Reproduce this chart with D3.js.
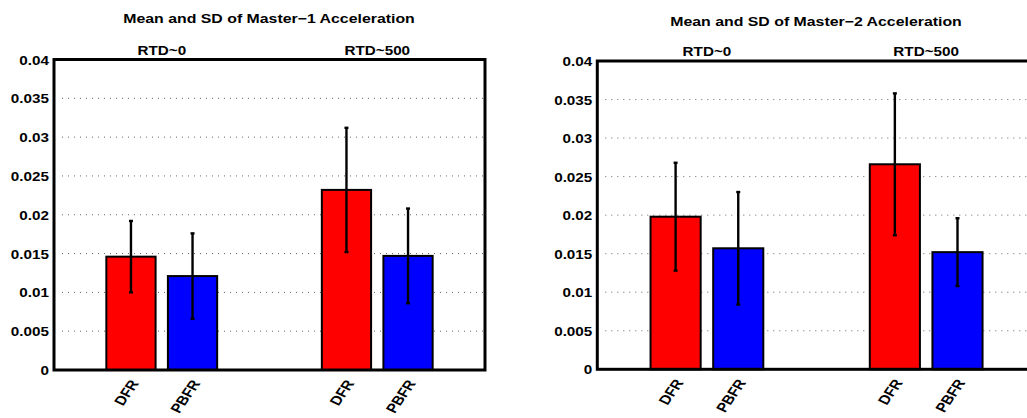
<!DOCTYPE html>
<html>
<head>
<meta charset="utf-8">
<script src="https://cdn.jsdelivr.net/npm/d3@7"></script>
<style>
  html, body { margin: 0; padding: 0; background: #fff; }
  svg text { font-family: "Liberation Sans", Arial, Helvetica, sans-serif; font-weight: bold; fill: #000; }
</style>
</head>
<body>
<svg id="chart" width="1027" height="418"></svg>
<script>
// Group and method names
const groups = ["RTD~0", "RTD~500"];
const methods = ["DFR", "PBFR"];
const colors = ["#ff0000", "#0000ff"];

// Master-1 acceleration: means and standard deviations per group
const m1DFR = [0.0146, 0.0232];
const m1DFRsd = [0.0046, 0.0080];
const m1PBFR = [0.0121, 0.0147];
const m1PBFRsd = [0.0055, 0.0061];

// Master-2 acceleration: means and standard deviations per group
const m2DFR = [0.0198, 0.0266];
const m2DFRsd = [0.0070, 0.0092];
const m2PBFR = [0.0157, 0.0152];
const m2PBFRsd = [0.0073, 0.0044];

// Y axis ticks
const yTicks = [0, 0.005, 0.01, 0.015, 0.02, 0.025, 0.03, 0.035, 0.04];

// Horizontal stretch applied to text glyphs
const SX = 1.22;

const svg = d3.select("#chart");

const panels = [
  { title: "Mean and SD of Master\u22121 Acceleration", dfr: m1DFR, dfrSd: m1DFRsd, pbfr: m1PBFR, pbfrSd: m1PBFRsd,
    left: 54, right: 485, top: 59.5, bottom: 370, titleY: 22.5, groupY: 54.5, titleX: 269 },
  { title: "Mean and SD of Master\u22122 Acceleration", dfr: m2DFR, dfrSd: m2DFRsd, pbfr: m2PBFR, pbfrSd: m2PBFRsd,
    left: 597.3, right: 1035.8, top: 61, bottom: 369.3, titleY: 26, groupY: 56, titleX: 816 }
];

// MATLAB-style grouped bar geometry
const groupWidth = Math.min(0.8, 2 / (2 + 1.5));
const offset = groupWidth / 4;
const barW = groupWidth / 2 * 0.8;

panels.forEach(p => {
  const x = d3.scaleLinear().domain([0.5, 2.5]).range([p.left, p.right]);
  const y = d3.scaleLinear().domain([0, 0.04]).range([p.bottom, p.top]);
  const g = svg.append("g");

  // Title
  g.append("text")
    .attr("transform", `translate(${p.titleX},${p.titleY}) scale(${SX},1)`)
    .attr("text-anchor", "middle")
    .style("font-size", "13px")
    .text(p.title);

  // Dotted grid
  g.append("g").selectAll("line")
    .data(yTicks.filter(t => t > 0 && t < 0.04))
    .join("line")
    .attr("x1", p.left + 8).attr("x2", p.right - 2)
    .attr("y1", d => y(d)).attr("y2", d => y(d))
    .attr("stroke", "#666").attr("stroke-width", 1)
    .attr("stroke-dasharray", "1,5");

  // Bars
  const rows = [];
  groups.forEach((gr, i) => {
    rows.push({ pos: i + 1 - offset, mean: p.dfr[i], sd: p.dfrSd[i], color: colors[0], label: methods[0] });
    rows.push({ pos: i + 1 + offset, mean: p.pbfr[i], sd: p.pbfrSd[i], color: colors[1], label: methods[1] });
  });
  const bw = x(barW) - x(0);
  g.append("g").selectAll("rect")
    .data(rows)
    .join("rect")
    .attr("x", d => x(d.pos) - bw / 2)
    .attr("width", bw)
    .attr("y", d => y(d.mean))
    .attr("height", d => y(0) - y(d.mean))
    .attr("fill", d => d.color)
    .attr("stroke", "#000").attr("stroke-width", 2);

  // Error bars (mean ± SD)
  const eb = g.append("g").selectAll("g").data(rows).join("g");
  eb.append("line")
    .attr("x1", d => x(d.pos)).attr("x2", d => x(d.pos))
    .attr("y1", d => y(d.mean + d.sd)).attr("y2", d => y(d.mean - d.sd))
    .attr("stroke", "#000").attr("stroke-width", 2.4);
  eb.append("line")
    .attr("x1", d => x(d.pos) - 2).attr("x2", d => x(d.pos) + 2)
    .attr("y1", d => y(d.mean + d.sd)).attr("y2", d => y(d.mean + d.sd))
    .attr("stroke", "#000").attr("stroke-width", 2.4);
  eb.append("line")
    .attr("x1", d => x(d.pos) - 2).attr("x2", d => x(d.pos) + 2)
    .attr("y1", d => y(d.mean - d.sd)).attr("y2", d => y(d.mean - d.sd))
    .attr("stroke", "#000").attr("stroke-width", 2.4);

  // Box
  g.append("rect")
    .attr("x", p.left).attr("y", p.top)
    .attr("width", p.right - p.left).attr("height", p.bottom - p.top)
    .attr("fill", "none").attr("stroke", "#000").attr("stroke-width", 3);

  // Y axis labels
  const yAxis = g.append("g")
    .attr("transform", `translate(${p.left},0)`)
    .call(d3.axisLeft(y).tickValues(yTicks).tickSize(0).tickFormat(d => String(+d.toFixed(3))));
  yAxis.select(".domain").remove();
  yAxis.selectAll("text")
    .attr("x", -5 / SX)
    .attr("dy", "0.36em")
    .attr("transform", `scale(${SX},1)`)
    .style("font-size", "12.5px")
    .style("font-family", null);

  // X axis labels (rotated)
  const xAxis = g.append("g")
    .attr("transform", `translate(0,${p.bottom})`)
    .call(d3.axisBottom(x).tickValues(rows.map(r => r.pos)).tickSize(0)
      .tickFormat((d, i) => rows[i].label));
  xAxis.select(".domain").remove();
  xAxis.selectAll("text")
    .attr("x", 0).attr("y", 0).attr("dy", "0.35em")
    .attr("text-anchor", "end")
    .attr("transform", `translate(3,11) scale(${SX},1) rotate(-60)`)
    .style("font-size", "13px")
    .style("font-family", null);

  // Group labels above the axes
  g.append("g").selectAll("text")
    .data(groups)
    .join("text")
    .attr("transform", (d, i) => `translate(${x(i + 1)},${p.groupY}) scale(${SX},1)`)
    .attr("text-anchor", "middle")
    .style("font-size", "12.5px")
    .text(d => d);
});
</script>
</body>
</html>
